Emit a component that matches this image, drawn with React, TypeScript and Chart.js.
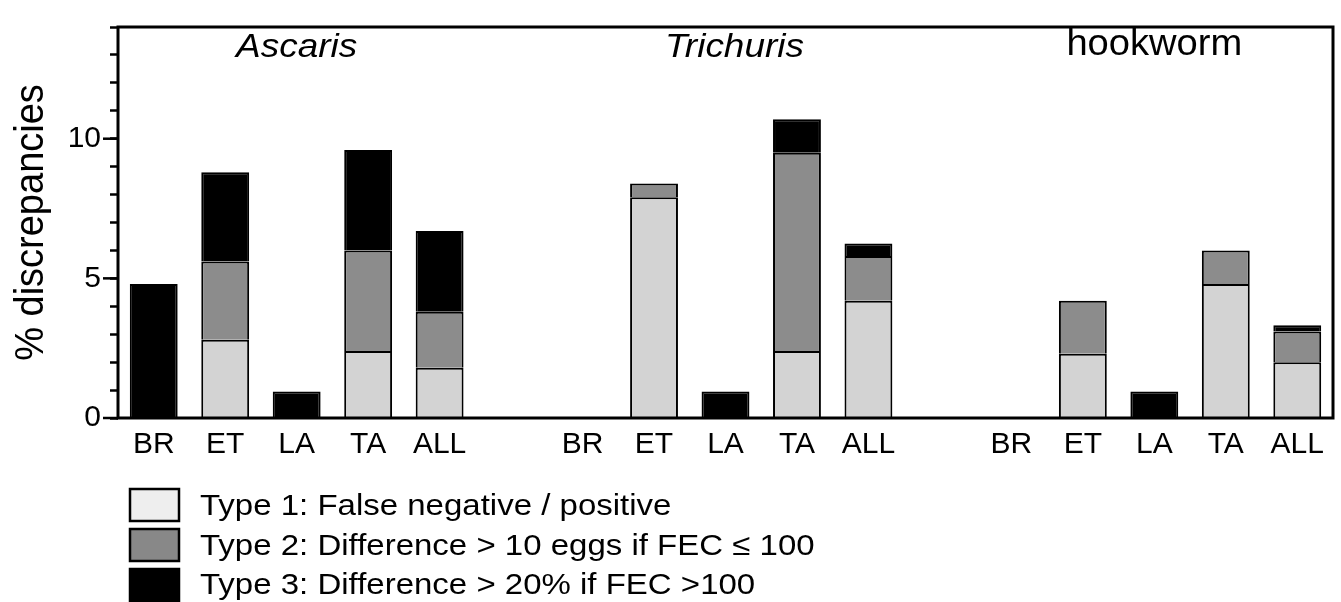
import React, { useEffect, useRef } from "react";
import { Chart, registerables } from "chart.js";

Chart.register(...registerables);

// ---- data ----
const categories = [
  "BR", "ET", "LA", "TA", "ALL", "",
  "BR", "ET", "LA", "TA", "ALL", "",
  "BR", "ET", "LA", "TA", "ALL",
];
const groupTitles = ["Ascaris", "Trichuris", "hookworm"];
const type1 = [null, 2.8, null, 2.4, 1.8, null, null, 7.9, null, 2.4, 4.2, null, null, 2.3, null, 4.8, 2.0];
const type2 = [null, 2.8, null, 3.6, 2.0, null, null, 0.5, null, 7.1, 1.6, null, null, 1.9, null, 1.2, 1.1];
const type3 = [4.8, 3.2, 0.95, 3.6, 2.9, null, null, null, 0.95, 1.2, 0.45, null, null, null, 0.95, null, 0.22];
const seriesNames = [
  "Type 1: False negative / positive",
  "Type 2: Difference > 10 eggs if FEC \u2264 100",
  "Type 3: Difference > 20% if FEC >100",
];
const yLabels = [0, 5, 10];
const yTitle = "% discrepancies";

const FONT = '"Liberation Sans", Arial, sans-serif';
const barColors = ["#d3d3d3", "#8c8c8c", "#000000"];
const swatchColors = ["#eeeeee", "#888888", "#000000"];

const decoPlugin = {
  id: "deco",
  afterDraw(chart: any) {
    const ctx = chart.ctx;
    const { left, right, top, bottom } = chart.chartArea;
    const y = chart.scales.y;
    const x = chart.scales.x;
    ctx.save();
    // frame
    ctx.strokeStyle = "#000";
    ctx.lineWidth = 3;
    ctx.strokeRect(left, top, right - left, bottom - top);
    // major ticks
    ctx.lineWidth = 2.5;
    for (const v of yLabels) {
      const py = y.getPixelForValue(v);
      ctx.beginPath();
      ctx.moveTo(left - 15, py);
      ctx.lineTo(left, py);
      ctx.stroke();
    }
    ctx.fillStyle = "#000";
    // y title
    ctx.save();
    ctx.translate(43, (top + bottom) / 2);
    ctx.scale(1.05, 1);
    ctx.rotate(-Math.PI / 2);
    ctx.font = `38px ${FONT}`;
    ctx.textAlign = "center";
    ctx.textBaseline = "alphabetic";
    ctx.fillText(yTitle, 0, 0);
    ctx.restore();
    // group titles
    const mids = [2, 8, 14];
    const dxs = [0, 9, 0];
    groupTitles.forEach((t, i) => {
      const cx = x.getPixelForValue(mids[i]) + dxs[i];
      ctx.save();
      ctx.translate(cx, 57);
      if (i < 2) {
        ctx.scale(1.12, 1);
        ctx.font = `italic 33px ${FONT}`;
      } else {
        ctx.translate(0, -2);
        ctx.scale(1.03, 1);
        ctx.font = `37px ${FONT}`;
      }
      ctx.textAlign = "center";
      ctx.textBaseline = "alphabetic";
      ctx.fillText(t, 0, 0);
      ctx.restore();
    });
    // legend
    const rowsTop = [488, 528, 568];
    const baselines = [515, 555, 594];
    seriesNames.forEach((name, i) => {
      ctx.fillStyle = swatchColors[i];
      ctx.fillRect(129, rowsTop[i], 51, 34);
      ctx.strokeStyle = "#000";
      ctx.lineWidth = 2.5;
      ctx.strokeRect(130, rowsTop[i] + 1, 49, 32);
      ctx.fillStyle = "#000";
      ctx.save();
      ctx.translate(200, baselines[i]);
      ctx.scale(1.1, 1);
      ctx.font = `30px ${FONT}`;
      ctx.textAlign = "left";
      ctx.textBaseline = "alphabetic";
      ctx.fillText(name, 0, 0);
      ctx.restore();
    });
    ctx.restore();
  },
};

export default function App() {
  const ref = useRef<HTMLCanvasElement | null>(null);
  useEffect(() => {
    if (!ref.current) return;
    const chart = new Chart(ref.current, {
      type: "bar",
      data: {
        labels: categories,
        datasets: [type1, type2, type3].map((d, i) => ({
          label: seriesNames[i],
          data: d as any,
          backgroundColor: barColors[i],
          borderColor: "#000",
          borderWidth: 2,
          borderSkipped: "start",
          barPercentage: 0.67,
          categoryPercentage: 1,
        })),
      },
      options: {
        animation: false,
        responsive: true,
        maintainAspectRatio: false,
        layout: { padding: { left: 0, right: 8, top: 15, bottom: 0 } },
        plugins: { legend: { display: false }, tooltip: { enabled: false } },
        scales: {
          x: {
            stacked: true,
            grid: { display: false, drawTicks: false },
            border: { display: false },
            ticks: {
              color: "#000",
              font: { family: FONT, size: 30 },
              padding: 9,
              maxRotation: 0,
              autoSkip: false,
            },
            afterFit(scale: any) {
              scale.height = 184;
            },
          },
          y: {
            stacked: true,
            min: 0,
            max: 14,
            grid: {
              drawOnChartArea: false,
              drawTicks: true,
              tickLength: 8,
              tickWidth: 2.5,
              tickColor: "#000",
            },
            border: { display: false },
            ticks: {
              stepSize: 1,
              autoSkip: false,
              color: "#000",
              padding: 9,
              font: { family: FONT, size: 30 },
              callback: (v: any) => (yLabels.includes(Number(v)) ? String(v) : ""),
            },
            afterFit(scale: any) {
              scale.width = 118;
            },
          },
        },
      },
      plugins: [decoPlugin],
    });
    return () => chart.destroy();
  }, []);
  return (
    <div style={{ position: "absolute", left: 0, top: 0, width: 1341, height: 602 }}>
      <canvas ref={ref} />
    </div>
  );
}
